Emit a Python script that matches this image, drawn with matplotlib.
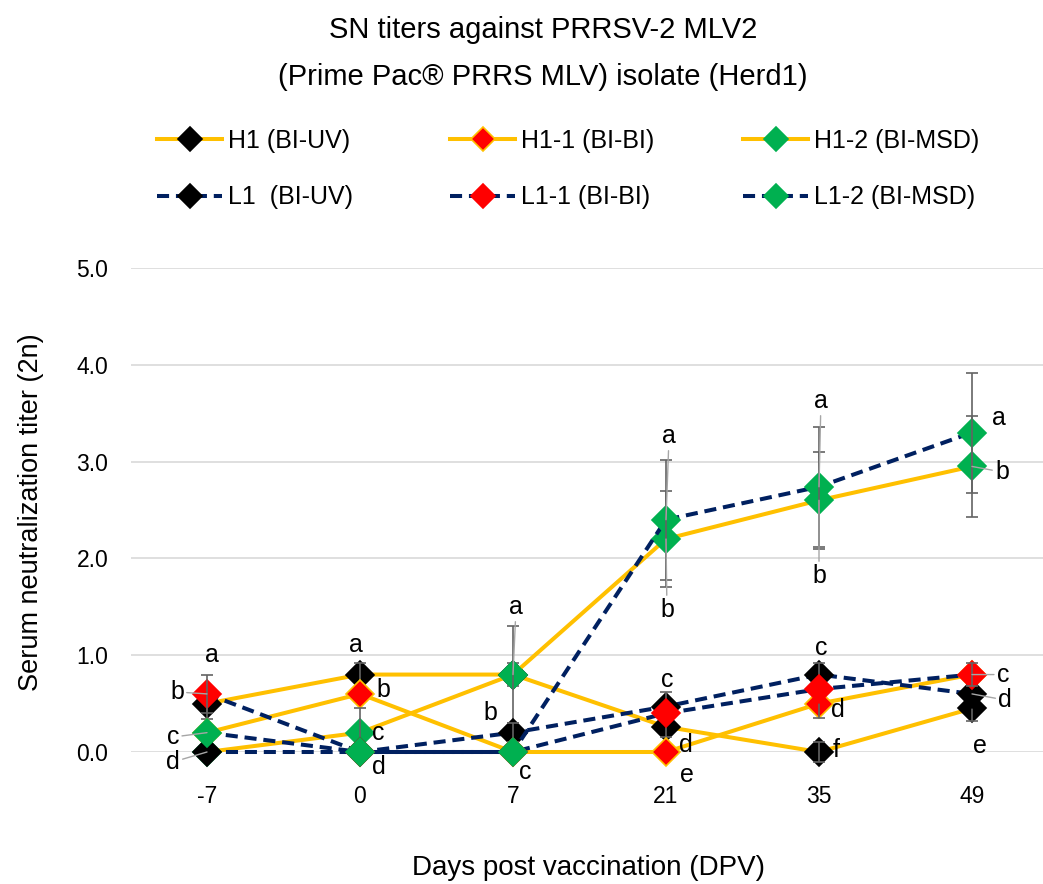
import numpy as np
import matplotlib
matplotlib.use('Agg')
import matplotlib.pyplot as plt

plt.rcParams['font.family'] = ['Liberation Sans', 'DejaVu Sans']

# ---------------- data ----------------
days = ['-7', '0', '7', '21', '35', '49']
names = ['H1 (BI-UV)', 'H1-1 (BI-BI)', 'H1-2 (BI-MSD)',
         'L1  (BI-UV)', 'L1-1 (BI-BI)', 'L1-2 (BI-MSD)']

h1 = [0.5, 0.8, 0.8, 0.26, 0.0, 0.45]
h1_1 = [0.2, 0.6, 0.0, 0.0, 0.5, 0.8]
h1_2 = [0.0, 0.2, 0.8, 2.2, 2.6, 2.95]
l1 = [0.0, 0.0, 0.2, 0.47, 0.8, 0.6]
l1_1 = [0.6, 0.0, 0.0, 0.4, 0.65, 0.8]
l1_2 = [0.2, 0.0, 0.0, 2.4, 2.74, 3.3]

h1_err = [0.16, 0.12, 0.12, 0.1, 0.1, 0.13]
h1_1_err = [0, 0, 0, 0, 0.15, 0]
h1_2_err = [0, 0.25, 0.5, 0.5, 0.5, 0.52]
l1_err = [0, 0, 0.1, 0.15, 0.12, 0]
l1_1_err = [0.2, 0, 0, 0, 0, 0.12]
l1_2_err = [0, 0, 0, 0.62, 0.62, 0.62]

values = [h1, h1_1, h1_2, l1, l1_1, l1_2]
errors = [h1_err, h1_1_err, h1_2_err, l1_err, l1_1_err, l1_2_err]

# significance letters: (series index, day index, letter)
letters = [
    (4, 0, 'a'), (4, 0, 'b'), (5, 0, 'c'), (3, 0, 'd'),
    (0, 1, 'a'), (1, 1, 'b'), (2, 1, 'c'), (5, 1, 'd'),
    (2, 2, 'a'), (3, 2, 'b'), (5, 2, 'c'),
    (5, 3, 'a'), (2, 3, 'b'), (3, 3, 'c'), (0, 3, 'd'), (1, 3, 'e'),
    (5, 4, 'a'), (2, 4, 'b'), (3, 4, 'c'), (1, 4, 'd'), (0, 4, 'f'),
    (5, 5, 'a'), (2, 5, 'b'), (4, 5, 'c'), (3, 5, 'd'), (0, 5, 'e'),
]

# ---------------- layout / style ----------------
letter_offsets = [
    (3.6, 28), (-21.6, 1.4), (-24.5, -3.2), (-24.5, -7.2),
    (-2.9, 21.3), (16.6, 2.8), (13, 0), (13.7, -10.8),
    (2.2, 48.7), (-16.6, 14.1), (8.6, -14.4),
    (2.2, 60.3), (0.7, -51.1), (0.7, 19.1), (14.4, -13), (15.1, -16.6),
    (1.4, 61.8), (0, -54.5), (1.4, 19.2), (13.7, -4.6), (12.2, 1.4),
    (19.4, 10.5), (21.6, -4), (22.3, 0), (23.8, -4.4), (5.8, -27),
]
leader = [False, True, True, True,
          False, False, False, False,
          True, False, False,
          True, True, False, False, False,
          True, True, False, False, False,
          False, True, True, True, False]

YELLOW = '#FFC000'
NAVY = '#002060'
GREEN = '#00B050'
line_colors = [YELLOW] * 3 + [NAVY] * 3
faces = ['black', '#FF0000', GREEN] * 2
edges = ['black', YELLOW, GREEN, 'black', '#FF0000', GREEN]
dashed = [False] * 3 + [True] * 3

W, H = 1043, 884
fig = plt.figure(figsize=(W / 100, H / 100), dpi=100)
ax_left, ax_right, ax_top, ax_bot = 130.5, 1043, 268, 752
ax = fig.add_axes([ax_left / W, 1 - ax_bot / H, (ax_right - ax_left) / W, (ax_bot - ax_top) / H])

x = np.arange(len(days))
lines = []
for i in range(6):
    kw = dict(color=line_colors[i], lw=2.9, marker='D', markersize=13.8,
              markerfacecolor=faces[i], markeredgecolor=edges[i], markeredgewidth=1.2,
              clip_on=False, label=names[i], zorder=3)
    if dashed[i]:
        kw['linestyle'] = (0, (3.0, 1.7))
    ln, = ax.plot(x, values[i], **kw)
    lines.append(ln)
    e = np.array(errors[i], dtype=float)
    v = np.array(values[i], dtype=float)
    m = e > 0
    if m.any():
        ax.errorbar(x[m], v[m], yerr=e[m], fmt='none', ecolor='#636363',
                    elinewidth=1.2, capsize=4, capthick=1.2, zorder=3, clip_on=False)

for (si, di, txt), (dx, dy), ld in zip(letters, letter_offsets, leader):
    kw = dict(xy=(x[di], values[si][di]), xytext=(dx, dy), textcoords='offset points',
              ha='center', va='center', fontsize=18, color='black', zorder=6,
              annotation_clip=False)
    if ld:
        kw['arrowprops'] = dict(arrowstyle='-', color='#A6A6A6', lw=1.0,
                                shrinkA=0, shrinkB=0)
    ax.annotate(txt, **kw)

ax.set_xlim(-0.5, -0.5 + (ax_right - ax_left) / 153.0)
ax.set_ylim(0, 5)
ax.set_xticks(x, days)
ax.set_yticks(np.arange(0, 5.01, 1.0))
ax.yaxis.set_major_formatter(matplotlib.ticker.FormatStrFormatter('%.1f'))
ax.tick_params(axis='both', length=0, labelsize=16.5)
ax.tick_params(axis='x', pad=24)
ax.tick_params(axis='y', pad=16)
ax.grid(axis='y', color='#D9D9D9', lw=1.2)
ax.set_axisbelow(True)
for s in ax.spines.values():
    s.set_visible(False)

ax.set_xlabel('Days post vaccination (DPV)', fontsize=20)
ax.xaxis.set_label_coords((589 - ax_left) / (ax_right - ax_left), -(855 - ax_bot) / (ax_bot - ax_top))
ax.set_ylabel('Serum neutralization titer (2n)', fontsize=19.5)
ax.yaxis.set_label_coords(-(ax_left - 44) / (ax_right - ax_left), 0.496)

fig.text(543 / W, 1 - 30 / H, 'SN titers against PRRSV-2 MLV2', ha='center', va='center', fontsize=21)
fig.text(543 / W, 1 - 77 / H, '(Prime Pac\u00ae PRRS MLV) isolate (Herd1)', ha='center', va='center', fontsize=21)

# legend: three columns (H row on top, L row below)
col_x = [157, 450, 743]
for c in range(3):
    fig.legend(handles=[lines[c], lines[c + 3]], labels=[names[c], names[c + 3]],
               loc='center left', bbox_to_anchor=(col_x[c] / W, 1 - 169 / H),
               frameon=False, fontsize=18, handlelength=2.6, handletextpad=0.25,
               borderpad=0, borderaxespad=0, labelspacing=1.3, numpoints=1,
               markerscale=0.85)

fig.savefig('out.png', dpi=100)
